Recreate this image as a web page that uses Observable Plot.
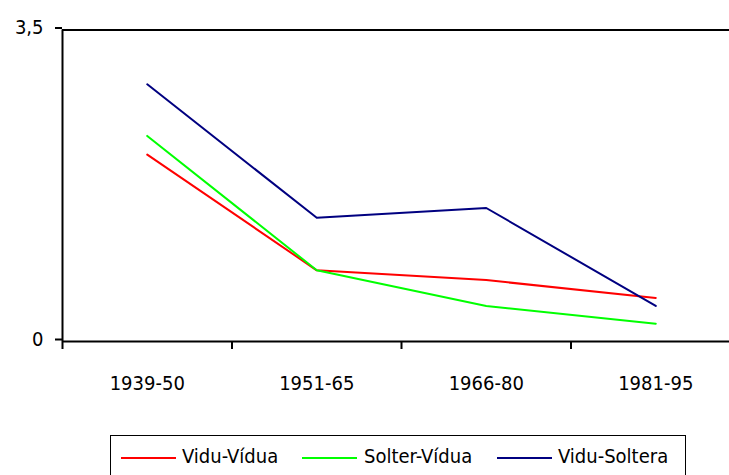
<!DOCTYPE html>
<html>
<head>
<meta charset="utf-8">
<script src="https://cdn.jsdelivr.net/npm/d3@7"></script>
<script src="https://cdn.jsdelivr.net/npm/@observablehq/plot@0.6"></script>
<style>
  html, body { margin: 0; padding: 0; background: #fff; overflow: hidden; }
  body { width: 729px; height: 475px; position: relative; font-family: "DejaVu Sans Condensed", "DejaVu Sans", sans-serif; }
  #chart { width: 729px; height: 430px; overflow: hidden; }
  #chart svg { overflow: hidden; max-width: none; }
  #legendClip { position: absolute; left: 0; top: 0; width: 729px; height: 475px; overflow: hidden; }
  #legend { position: absolute; left: 110px; top: 435px; width: 576px; height: 70px; border: 1.5px solid #000; border-bottom: none; box-sizing: border-box; }
  #legend .sw { position: absolute; top: 21px; width: 55px; height: 0; border-top: 2px solid; }
  #legend .lb { position: absolute; top: 8px; font-size: 20px; line-height: 24px; color: #000; white-space: nowrap; }
</style>
</head>
<body>
<div id="chart"></div>
<div id="legendClip"><div id="legend"></div></div>
<script>
const periods = ["1939-50", "1951-65", "1966-80", "1981-95"];
const seriesNames = ["Vidu-Vídua", "Solter-Vídua", "Vidu-Soltera"];
const viduVidua = [2.10, 0.80, 0.69, 0.49];
const solterVidua = [2.31, 0.80, 0.40, 0.20];
const viduSoltera = [2.89, 1.39, 1.50, 0.40];
const colors = ["#ff0000", "#00ff00", "#000080"];
const yTicks = [0, 3.5];

const valuesBySeries = [viduVidua, solterVidua, viduSoltera];
const data = [];
seriesNames.forEach((s, si) => {
  valuesBySeries[si].forEach((v, i) => data.push({series: s, idx: i + 0.5, value: v}));
});

const boundaries = d3.range(periods.length + 1);
const centers = periods.map((p, i) => i + 0.5);

const plot = Plot.plot({
  width: 729,
  height: 430,
  marginLeft: 62,
  marginRight: -11,
  marginTop: 29.5,
  marginBottom: 89,
  style: {fontFamily: '"DejaVu Sans Condensed", "DejaVu Sans", sans-serif', fontSize: "20px", color: "#000", background: "#fff", overflow: "hidden"},
  x: {domain: [0, periods.length], axis: null},
  y: {domain: [0, 3.5], axis: null},
  color: {domain: seriesNames, range: colors},
  marks: [
    Plot.axisY({ticks: yTicks, label: null, tickSize: 7, tickPadding: 12, tickFormat: d => String(d).replace(".", ","), strokeWidth: 2, dy: -2, fontSize: 20}),
    Plot.axisX({ticks: boundaries, label: null, tickSize: 8, tickFormat: () => "", strokeWidth: 2}),
    Plot.axisX({ticks: centers, label: null, tickSize: 0, tickPadding: 34, tickFormat: d => periods[Math.round(d - 0.5)], fontSize: 20}),
    Plot.ruleY(yTicks, {stroke: "#000", strokeWidth: 2}),
    Plot.ruleX([0], {stroke: "#000", strokeWidth: 2}),
    Plot.line(data, {x: "idx", y: "value", z: "series", stroke: "series", strokeWidth: 2})
  ]
});
document.getElementById("chart").appendChild(plot);

const legend = document.getElementById("legend");
const swLeft = [10, 191, 386];
const lbLeft = [71, 253, 447];
seriesNames.forEach((s, i) => {
  const sw = document.createElement("div");
  sw.className = "sw";
  sw.style.left = swLeft[i] + "px";
  sw.style.borderTopColor = colors[i];
  legend.appendChild(sw);
  const lb = document.createElement("div");
  lb.className = "lb";
  lb.style.left = lbLeft[i] + "px";
  lb.textContent = s;
  legend.appendChild(lb);
});
</script>
</body>
</html>
